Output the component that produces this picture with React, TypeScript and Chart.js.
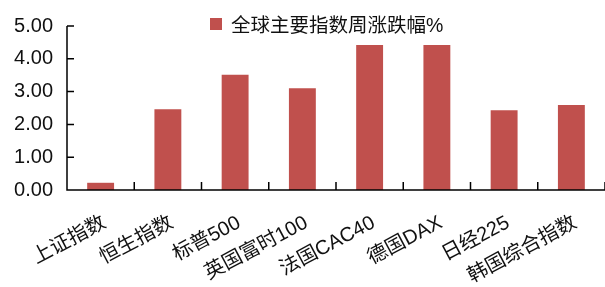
import React, { useEffect, useRef } from "react";
import { Chart, registerables } from "chart.js";

Chart.register(...registerables);

const categories = ["上证指数", "恒生指数", "标普500", "英国富时100", "法国CAC40", "德国DAX", "日经225", "韩国综合指数"];
const seriesName = "全球主要指数周涨跌幅%";
const values = [0.22, 2.46, 3.51, 3.1, 4.42, 4.42, 2.43, 2.59];
const yTicks = [0, 1, 2, 3, 4, 5];

const BAR_COLOR = "#C0504D";
const FONT = "'Liberation Sans', 'Noto Sans CJK SC', sans-serif";

const innerTicks = {
  id: "innerTicks",
  afterDraw(chart: any) {
    const ctx = chart.ctx;
    const x = chart.scales.x;
    const y = chart.scales.y;
    const area = chart.chartArea;
    ctx.save();
    ctx.strokeStyle = "#000";
    ctx.lineWidth = 1.5;
    ctx.beginPath();
    ctx.moveTo(area.left, y.getPixelForValue(5));
    ctx.lineTo(area.left, area.bottom);
    ctx.lineTo(area.right, area.bottom);
    yTicks.forEach((v) => {
      const py = y.getPixelForValue(v);
      ctx.moveTo(area.left, py);
      ctx.lineTo(area.left + 7, py);
    });
    const n = categories.length;
    const w = x.getPixelForValue(1) - x.getPixelForValue(0);
    for (let i = 0; i <= n; i++) {
      const px = x.getPixelForValue(0) - w / 2 + i * w;
      ctx.moveTo(px, area.bottom);
      ctx.lineTo(px, area.bottom - 8);
    }
    ctx.stroke();
    ctx.restore();
  },
};

export default function App() {
  const ref = useRef<HTMLCanvasElement>(null);
  useEffect(() => {
    document.body.style.margin = "0";
    const chart = new Chart(ref.current!, {
      type: "bar",
      data: {
        labels: categories,
        datasets: [
          {
            label: seriesName,
            data: values,
            backgroundColor: BAR_COLOR,
            barPercentage: 0.8,
            categoryPercentage: 0.5,
          },
        ],
      },
      options: {
        animation: false,
        responsive: false,
        layout: { padding: { top: 20, right: 0, left: 0, bottom: 0 } },
        plugins: { legend: { display: false }, tooltip: { enabled: false } },
        scales: {
          x: {
            offset: true,
            grid: { display: false, drawTicks: false },
            border: { display: false },
            ticks: {
              color: "#111",
              font: { family: FONT, size: 20 },
              minRotation: 28,
              maxRotation: 28,
              padding: 21,
              labelOffset: 4,
              autoSkip: false,
            },
            afterFit(scale: any) {
              scale.height = 97;
            },
          },
          y: {
            min: 0,
            max: 5,
            grid: { display: false, drawTicks: false },
            border: { display: false },
            ticks: {
              stepSize: 1,
              color: "#111",
              font: { family: FONT, size: 20 },
              padding: 14,
              callback: (v: any) => Number(v).toFixed(2),
            },
            afterFit(scale: any) {
              scale.width = 67;
            },
          },
        },
      },
      plugins: [innerTicks],
    });
    return () => chart.destroy();
  }, []);
  return (
    <div style={{ position: "relative", width: 605, height: 287 }}>
      <canvas ref={ref} width={605} height={287} />
      <div
        style={{
          position: "absolute",
          left: 210,
          top: 9,
          display: "flex",
          alignItems: "center",
          fontFamily: FONT,
          fontSize: 19.5,
          color: "#111",
          whiteSpace: "nowrap",
        }}
      >
        <span style={{ display: "inline-block", width: 12, height: 12, background: BAR_COLOR, marginRight: 9 }} />
        <span>{seriesName}</span>
      </div>
    </div>
  );
}
